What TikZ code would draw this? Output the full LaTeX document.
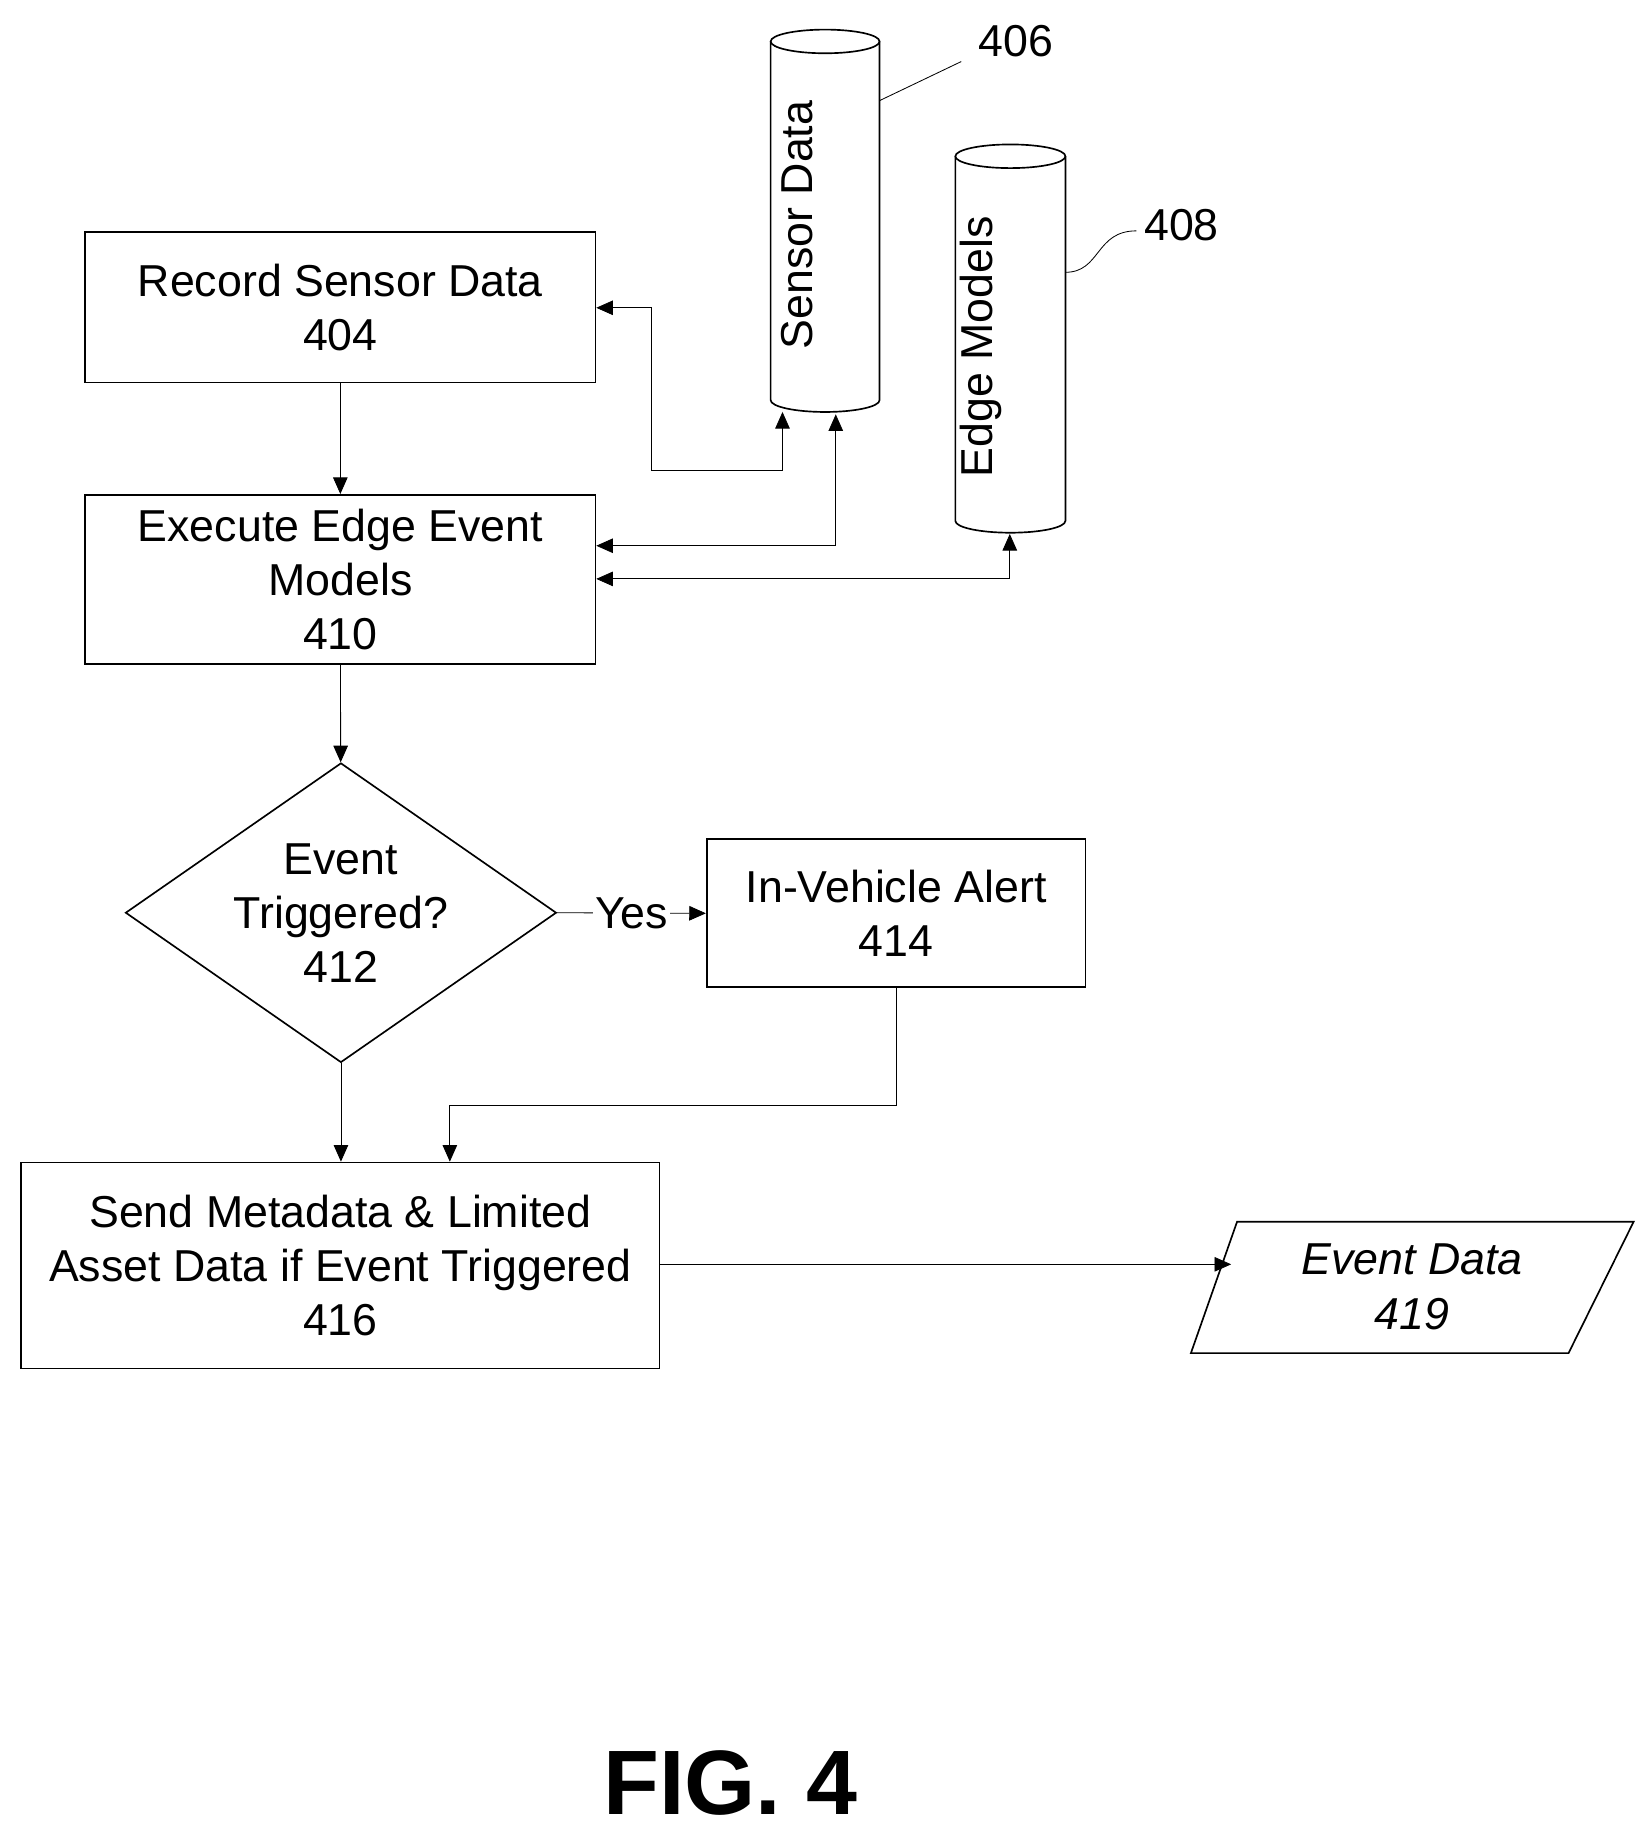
\documentclass[tikz,border=0pt]{standalone}
\usepackage{fontspec}
\setmainfont{Liberation Sans}
\usetikzlibrary{positioning,calc,shapes.geometric,arrows.meta}
\begin{document}
\begin{tikzpicture}[x=0.02cm,y=-0.02cm,font=\fontsize{21.5}{26}\selectfont,
	box/.style={draw=black,thick,align=center,inner sep=0pt},
	link/.style={-{Triangle[length=8pt,width=7pt]},thin},
	both/.style={{Triangle[length=8pt,width=7pt]}-{Triangle[length=8pt,width=7pt]},thin}]
	\useasboundingbox (0,0) rectangle (1390,1556);
	% process boxes
	\node[box,minimum width=431*0.02cm,minimum height=127*0.02cm] (rec) at (287.5,259.5) {Record Sensor Data\\404};
	\node[box,minimum width=431*0.02cm,minimum height=143*0.02cm] (exec) at (287.5,489.5) {Execute Edge Event\\Models\\410};
	\node[box,diamond,aspect=1.44,minimum width=364*0.02cm,minimum height=253*0.02cm,inner sep=0pt] (trig) at (288,771) {Event\\Triggered?\\412};
	\node[box,minimum width=320*0.02cm,minimum height=125*0.02cm] (alert) at (757,771.5) {In-Vehicle Alert\\414};
	\node[box,minimum width=539*0.02cm,minimum height=174*0.02cm] (send) at (287.5,1069) {Send Metadata \& Limited\\Asset Data if Event Triggered\\416};
	% data output
	\draw[thick] (1045,1032) -- (1380,1032) -- (1325,1143) -- (1006,1143) -- cycle;
	\node[align=center,font=\fontsize{21.5}{26}\selectfont\itshape] (evt) at (1193,1087) {Event Data\\419};
	\coordinate (evtin) at (1040,1068);
	% stores
	\draw[thick] (651,35) -- (651,338) arc[start angle=180,end angle=360,x radius=46,y radius=-10] -- (743,35);
	\draw[thick] (697,35) ellipse[x radius=46,y radius=10];
	\node[rotate=90] (sdata) at (673,190) {Sensor Data};
	\draw[thick] (807,132) -- (807,440) arc[start angle=180,end angle=360,x radius=46.5,y radius=-10] -- (900,132);
	\draw[thick] (853.5,132) ellipse[x radius=46.5,y radius=10];
	\node[rotate=90] (emod) at (829,293) {Edge Models};
	\coordinate (sd1) at (661,348);
	\coordinate (sd2) at (706,350);
	\coordinate (em) at (853,451);
	% reference numerals
	\node (n406) at (858,35) {406};
	\node (n408) at (998,190) {408};
	\draw (743,85) -- (812,52);
	\draw (900,230) .. controls (930,230) and (925,195) .. (960,195);
	% connectors
	\draw[link] (rec) -- (exec);
	\draw[both] (rec.east|-0,260) -- (550,260) |- (661,397) -- (sd1);
	\draw[both] (exec.east|-0,461) -| (sd2);
	\draw[both] (exec.east|-0,489) -| (em);
	\draw[link] (exec) -- (trig);
	\draw[link] (trig.east) -- node[fill=white,inner sep=1pt] (yes) {Yes} (alert.west);
	\draw[link] (trig.south) -- (send.north-|trig.south);
	\draw[link] (alert.south) |- (380,934) -- (send.north-|380,0);
	\draw[link] (send.east|-0,1068) -- (evtin);
	\node[font=\fontsize{44}{48}\selectfont\bfseries] (fig) at (617,1506) {FIG. 4};
\end{tikzpicture}
\end{document}
